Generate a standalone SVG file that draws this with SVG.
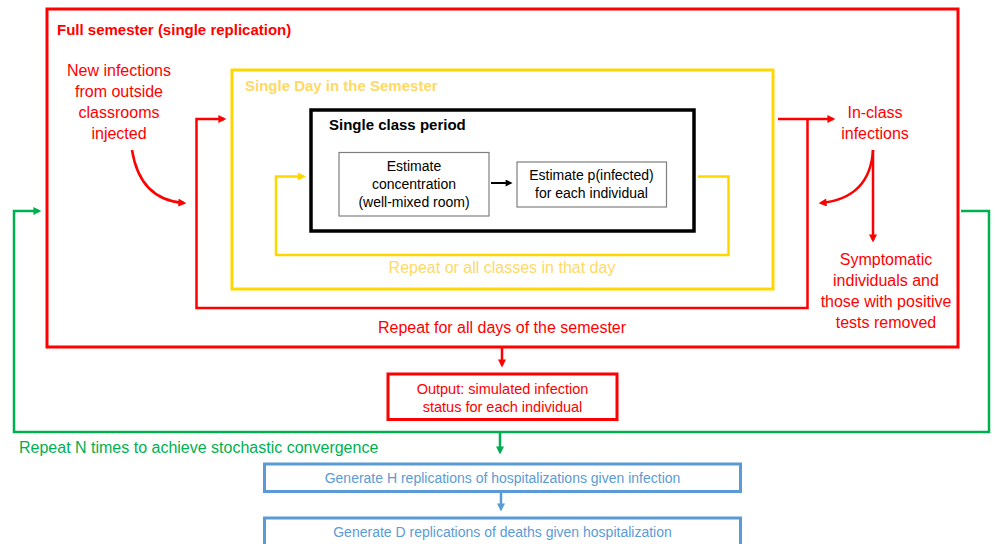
<svg xmlns="http://www.w3.org/2000/svg" width="995" height="544" viewBox="0 0 995 544">
  <style>
    text { font-family: "Liberation Sans", Arial, sans-serif; }
    .red { fill: #FF0000; }
    .ylw { fill: #FFD966; }
    .grn { fill: #00B050; }
    .blu { fill: #5B9BD5; }
    .blk { fill: #000000; }
    .b { font-weight: bold; }
    .t16 { font-size: 16px; }
    .t15 { font-size: 15px; }
    .t14 { font-size: 14px; }
    .mid { text-anchor: middle; }
    .lnR { fill: none; stroke: #FF0000; stroke-width: 2.5; }
    .lnY { fill: none; stroke: #FFD700; stroke-width: 2.5; }
    .lnG { fill: none; stroke: #00B050; stroke-width: 2.5; }
    .lnB { fill: none; stroke: #5B9BD5; stroke-width: 2.5; }
    .lnK { fill: none; stroke: #000000; stroke-width: 2; }
  </style>
  <defs>
    <marker id="aR" viewBox="0 0 10 10" refX="7" refY="5" markerWidth="9" markerHeight="8" markerUnits="userSpaceOnUse" orient="auto"><path d="M0,0 L10,5 L0,10 z" fill="#FF0000"/></marker>
    <marker id="aY" viewBox="0 0 10 10" refX="7" refY="5" markerWidth="9" markerHeight="8" markerUnits="userSpaceOnUse" orient="auto"><path d="M0,0 L10,5 L0,10 z" fill="#FFD700"/></marker>
    <marker id="aG" viewBox="0 0 10 10" refX="7" refY="5" markerWidth="9" markerHeight="8" markerUnits="userSpaceOnUse" orient="auto"><path d="M0,0 L10,5 L0,10 z" fill="#00B050"/></marker>
    <marker id="aB" viewBox="0 0 10 10" refX="7" refY="5" markerWidth="9" markerHeight="8" markerUnits="userSpaceOnUse" orient="auto"><path d="M0,0 L10,5 L0,10 z" fill="#5B9BD5"/></marker>
    <marker id="aK" viewBox="0 0 10 10" refX="7" refY="5" markerWidth="8" markerHeight="7" markerUnits="userSpaceOnUse" orient="auto"><path d="M0,0 L10,5 L0,10 z" fill="#000000"/></marker>
  </defs>
  <rect width="995" height="544" fill="#FFFFFF"/>

  <g id="semester">
    <rect x="47" y="9" width="911" height="338" fill="none" stroke="#FF0000" stroke-width="3"/>
    <text x="57" y="35" class="red b t15">Full semester (single replication)</text>
  </g>

  <g id="new-infections">
    <text class="red t16 mid"><tspan x="119" y="76">New infections</tspan><tspan x="119" y="97">from outside</tspan><tspan x="119" y="118">classrooms</tspan><tspan x="119" y="139">injected</tspan></text>
  </g>

  <g id="single-day">
    <rect x="232" y="70" width="541" height="219" fill="none" stroke="#FFD700" stroke-width="3"/>
    <text x="245" y="91" class="ylw b t15">Single Day in the Semester</text>
  </g>

  <g id="class-period">
    <rect x="311" y="110" width="383" height="121" fill="none" stroke="#000000" stroke-width="3.5"/>
    <text x="329" y="130" class="blk b t15">Single class period</text>
  </g>

  <g id="concentration">
    <rect x="339" y="152.5" width="150" height="63.5" fill="#FFFFFF" stroke="#7F7F7F" stroke-width="1.2"/>
    <text class="blk t14 mid"><tspan x="414" y="171">Estimate</tspan><tspan x="414" y="189">concentration</tspan><tspan x="414" y="207">(well-mixed room)</tspan></text>
  </g>

  <g id="p-infected">
    <rect x="517" y="162" width="149.5" height="45" fill="#FFFFFF" stroke="#7F7F7F" stroke-width="1.2"/>
    <text class="blk t14 mid"><tspan x="591.5" y="180">Estimate p(infected)</tspan><tspan x="591.5" y="198">for each individual</tspan></text>
  </g>

  <g id="in-class">
    <text class="red t16 mid"><tspan x="875" y="118">In-class</tspan><tspan x="875" y="139">infections</tspan></text>
  </g>

  <g id="removed">
    <text class="red t16 mid"><tspan x="886" y="265">Symptomatic</tspan><tspan x="886" y="286">individuals and</tspan><tspan x="886" y="307">those with positive</tspan><tspan x="886" y="328">tests removed</tspan></text>
  </g>

  <g id="repeat-classes">
    <text x="502" y="273" class="ylw t16 mid">Repeat or all classes in that day</text>
  </g>

  <g id="repeat-days">
    <text x="502" y="333" class="red t16 mid">Repeat for all days of the semester</text>
  </g>

  <g id="output">
    <rect x="388" y="374" width="229" height="45.5" fill="none" stroke="#FF0000" stroke-width="3"/>
    <text class="red t14 mid" style="font-size:14.5px"><tspan x="502.5" y="394">Output: simulated infection</tspan><tspan x="502.5" y="412">status for each individual</tspan></text>
  </g>

  <g id="repeat-n">
    <text x="19" y="453" class="grn t16">Repeat N times to achieve stochastic convergence</text>
  </g>

  <g id="hospitalizations">
    <rect x="264.5" y="464" width="476" height="27.5" fill="none" stroke="#5B9BD5" stroke-width="3"/>
    <text x="502.5" y="483" class="blu t14 mid">Generate H replications of hospitalizations given infection</text>
  </g>

  <g id="deaths">
    <rect x="264.5" y="518" width="476" height="30" fill="none" stroke="#5B9BD5" stroke-width="3"/>
    <text x="502.5" y="537" class="blu t14 mid">Generate D replications of deaths given hospitalization</text>
  </g>

  <g id="connectors">
    <!-- class period internal -->
    <line x1="491" y1="183" x2="510.5" y2="183" class="lnK" marker-end="url(#aK)"/>
    <!-- repeat classes loop -->
    <path d="M698,176.5 H728.5 V255 H276 V176.5 H303.5" class="lnY" marker-end="url(#aY)"/>
    <!-- repeat days loop -->
    <path d="M807.5,119 V308 H196.5 V119 H224" class="lnR" marker-end="url(#aR)"/>
    <line x1="778" y1="119" x2="833" y2="119" class="lnR" marker-end="url(#aR)"/>
    <!-- injected curve -->
    <path d="M132,150 Q140,200 184,203" class="lnR" marker-end="url(#aR)"/>
    <!-- in-class curves -->
    <path d="M873,150 Q870,198 821,203" class="lnR" marker-end="url(#aR)"/>
    <line x1="873" y1="150" x2="873" y2="240" class="lnR" marker-end="url(#aR)"/>
    <!-- to output -->
    <line x1="502" y1="347" x2="502" y2="365" class="lnR" marker-end="url(#aR)"/>
    <!-- stochastic loop -->
    <path d="M961,211 H989 V432 H14 V211 H39" class="lnG" marker-end="url(#aG)"/>
    <line x1="500" y1="432" x2="500" y2="452" class="lnG" marker-end="url(#aG)"/>
    <!-- hosp to deaths -->
    <line x1="501" y1="492" x2="501" y2="509" class="lnB" marker-end="url(#aB)"/>
  </g>
</svg>
